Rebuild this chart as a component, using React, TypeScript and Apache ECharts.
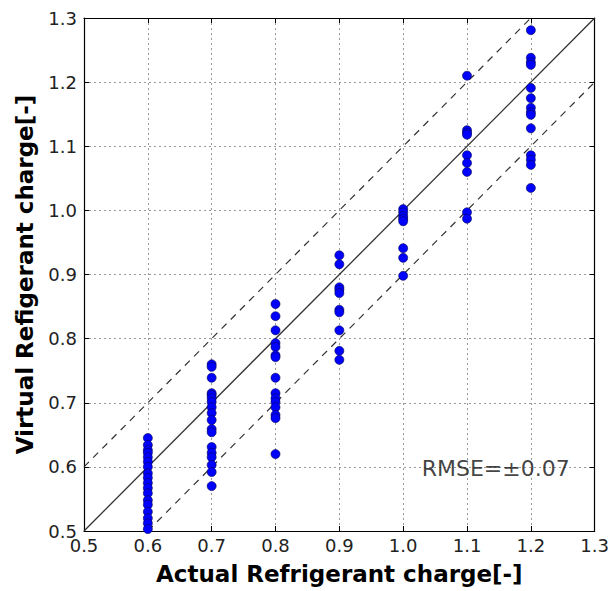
import React, { useEffect, useRef } from "react";
import * as echarts from "echarts";

const actual06 = [0.645, 0.634, 0.626, 0.622, 0.615, 0.608, 0.600, 0.590, 0.583, 0.575, 0.567, 0.559, 0.548, 0.541, 0.530, 0.520, 0.512, 0.503];
const actual07 = [0.760, 0.756, 0.739, 0.715, 0.712, 0.707, 0.701, 0.693, 0.684, 0.673, 0.659, 0.654, 0.631, 0.622, 0.615, 0.603, 0.592, 0.570];
const actual08 = [0.854, 0.835, 0.813, 0.793, 0.787, 0.774, 0.771, 0.739, 0.715, 0.707, 0.701, 0.693, 0.681, 0.676, 0.620];
const actual09 = [0.930, 0.916, 0.880, 0.876, 0.871, 0.845, 0.841, 0.813, 0.781, 0.767];
const actual10 = [1.002, 0.997, 0.991, 0.987, 0.983, 0.941, 0.926, 0.898];
const actual11 = [1.210, 1.125, 1.121, 1.118, 1.086, 1.074, 1.060, 0.997, 0.987];
const actual12 = [1.281, 1.238, 1.231, 1.227, 1.191, 1.175, 1.160, 1.153, 1.149, 1.128, 1.086, 1.079, 1.071, 1.035];

const groups: [number, number[]][] = [
  [0.6, actual06],
  [0.7, actual07],
  [0.8, actual08],
  [0.9, actual09],
  [1.0, actual10],
  [1.1, actual11],
  [1.2, actual12],
];

const axisMin = 0.5;
const axisMax = 1.3;
const band = 0.1;
const rmseLabel = "RMSE=±0.07";
const rmsePos = [1.029, 0.598];

export default function App() {
  const ref = useRef<HTMLDivElement>(null);
  useEffect(() => {
    if (!ref.current) return;
    const chart = echarts.init(ref.current, null, { renderer: "svg" });
    const pts: number[][] = [];
    groups.forEach(([x, ys]) => ys.forEach((y) => pts.push([x, y])));
    const font = "DejaVu Sans";
    const tickLabel = (v: number) => v.toFixed(1);
    const baseAxis = {
      type: "value" as const,
      min: axisMin,
      max: axisMax,
      interval: 0.1,
      axisLine: { show: true, lineStyle: { color: "#000", width: 1.2 } },
      axisTick: { show: true, inside: true, length: 5, lineStyle: { color: "#000" } },
      splitLine: { show: true, lineStyle: { color: "#999", type: [2, 3], width: 1 } },
    };
    const mirror = {
      type: "value" as const,
      min: axisMin,
      max: axisMax,
      interval: 0.1,
      axisLine: { show: true, lineStyle: { color: "#000", width: 1.2 } },
      axisTick: { show: true, inside: true, length: 5, lineStyle: { color: "#000" } },
      splitLine: { show: false },
      axisLabel: { show: false },
    };
    const titleStyle = { fontSize: 23, fontWeight: "bold", fontFamily: font, color: "#000" };
    const dashed = { color: "#333", width: 1.2, type: [7, 6] as number[] };
    chart.setOption({
      animation: false,
      backgroundColor: "#fff",
      grid: { left: 84, top: 18, right: 15, bottom: 60, containLabel: false },
      xAxis: [
        {
          ...baseAxis,
          position: "bottom",
          axisLabel: { color: "#222", fontSize: 18, fontFamily: font, formatter: tickLabel, margin: 5 },
          name: "Actual Refrigerant charge[-]",
          nameLocation: "middle",
          nameGap: 31,
          nameTextStyle: titleStyle,
        },
        { ...mirror, position: "top" },
      ],
      yAxis: [
        {
          ...baseAxis,
          position: "left",
          axisLabel: { color: "#222", fontSize: 18, fontFamily: font, formatter: tickLabel, margin: 7 },
          name: "Virtual Refigerant charge[-]",
          nameLocation: "middle",
          nameGap: 48,
          nameTextStyle: titleStyle,
        },
        { ...mirror, position: "right" },
      ],
      series: [
        {
          type: "line",
          data: [[axisMin, axisMin], [axisMax, axisMax]],
          symbol: "none",
          lineStyle: { color: "#333", width: 1.3 },
          z: 3,
        },
        {
          type: "line",
          data: [[axisMin, axisMin + band], [axisMax - band, axisMax]],
          symbol: "none",
          lineStyle: dashed,
          z: 3,
        },
        {
          type: "line",
          data: [[axisMin + band, axisMin], [axisMax, axisMax - band]],
          symbol: "none",
          lineStyle: dashed,
          z: 3,
        },
        {
          type: "scatter",
          data: pts,
          symbol: "circle",
          symbolSize: 9,
          itemStyle: { color: "#0000ff", borderColor: "#000050", borderWidth: 0.6, opacity: 1 },
          z: 4,
        },
        {
          type: "scatter",
          data: [rmsePos],
          symbolSize: 0,
          silent: true,
          label: {
            show: true,
            position: "right",
            distance: 0,
            formatter: rmseLabel,
            fontSize: 22,
            fontFamily: font,
            color: "#111",
          },
          z: 5,
        },
      ],
    });
    return () => chart.dispose();
  }, []);
  return (
    <div
      ref={ref}
      style={{ position: "absolute", left: 0, top: 0, width: 612, height: 591 }}
    />
  );
}
